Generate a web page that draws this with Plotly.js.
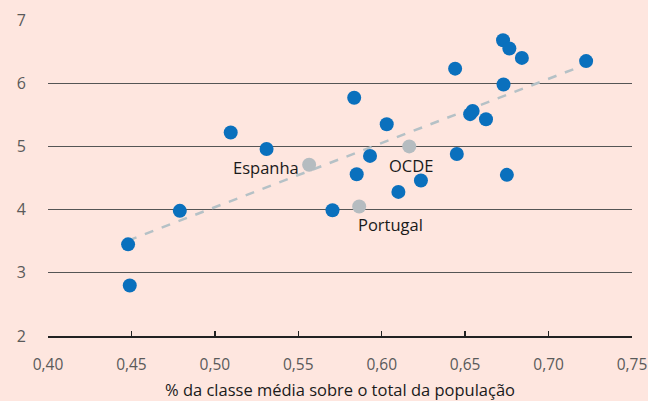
<!DOCTYPE html>
<html><head><meta charset="utf-8">
<script src="https://cdn.plot.ly/plotly-3.0.1.min.js"></script>
<style>html,body{margin:0;padding:0;background:#fee6df;}</style>
</head><body>
<div id="chart" style="width:648px;height:401px;"></div>
<script>
// Countries (unlabelled, blue)
const xBlue = [0.448,0.449,0.479,0.5095,0.531,0.5705,0.5835,0.585,0.593,0.603,0.610,0.6235,0.644,0.645,0.653,0.6545,0.6625,0.6727,0.6765,0.673,0.684,0.675,0.7225];
const yBlue = [3.45,2.80,3.98,5.22,4.96,3.99,5.77,4.56,4.85,5.35,4.28,4.46,6.23,4.88,5.51,5.56,5.43,6.68,6.55,5.98,6.40,4.55,6.35];
// Highlighted points (grey)
const hlNames = ["Espanha","OCDE","Portugal"];
const xHl = [0.5565,0.6165,0.5865];
const yHl = [4.71,5.00,4.05];
// Trend line endpoints
const xTrend = [0.448,0.7227];
const yTrend = [3.51,6.30];
// Axis ticks
const xTicks = [0.40,0.45,0.50,0.55,0.60,0.65,0.70,0.75];
const xTickText = ["0,40","0,45","0,50","0,55","0,60","0,65","0,70","0,75"];
const yTicks = [2,3,4,5,6,7];

const fontFam = "'Open Sans', 'Noto Sans', sans-serif";
const traces = [
  {x:xTrend, y:yTrend, mode:'lines', line:{color:'#b5c1c6', width:2.5, dash:'dash'}, hoverinfo:'skip'},
  {x:xBlue, y:yBlue, mode:'markers', marker:{color:'#0a70bd', size:14}},
  {x:xHl, y:yHl, mode:'markers', marker:{color:'#b5bcc0', size:14}}
];
const annPos = [
  {xanchor:'right', yanchor:'middle', xshift:-8, yshift:-3},
  {xanchor:'center', yanchor:'top', xshift:2, yshift:-6},
  {xanchor:'left', yanchor:'top', xshift:-3, yshift:-5}
];
const annotations = hlNames.map((n,i)=>Object.assign({
  x:xHl[i], y:yHl[i], text:n, showarrow:false,
  font:{family:fontFam, size:16.5, color:'#1a1a1a'}
}, annPos[i]));

const layout = {
  width:648, height:401,
  margin:{l:48.4, r:16.3, t:20, b:65},
  paper_bgcolor:'#fee6df', plot_bgcolor:'#fee6df',
  showlegend:false,
  xaxis:{range:[0.40,0.75], tickvals:xTicks, ticktext:xTickText, showgrid:false, zeroline:false,
    showline:true, linecolor:'#222', linewidth:1.5, ticks:'inside', ticklen:5, tickwidth:1.5, tickcolor:'#222',
    ticklabelstandoff:14,
    tickfont:{family:fontFam, size:15.5, color:'#5a5a5a'},
    title:{text:'% da classe média sobre o total da população', font:{family:fontFam, size:16.5, color:'#1a1a1a'}, standoff:13}},
  yaxis:{range:[2,7], tickvals:yTicks, showgrid:true, gridcolor:'#555', gridwidth:1.2, zeroline:false,
    showline:false, ticks:'', ticklabelstandoff:21,
    tickfont:{family:fontFam, size:16, color:'#5a5a5a'}},
  annotations:annotations
};
Plotly.newPlot('chart', traces, layout, {displayModeBar:false, staticPlot:true});
</script>
</body></html>
